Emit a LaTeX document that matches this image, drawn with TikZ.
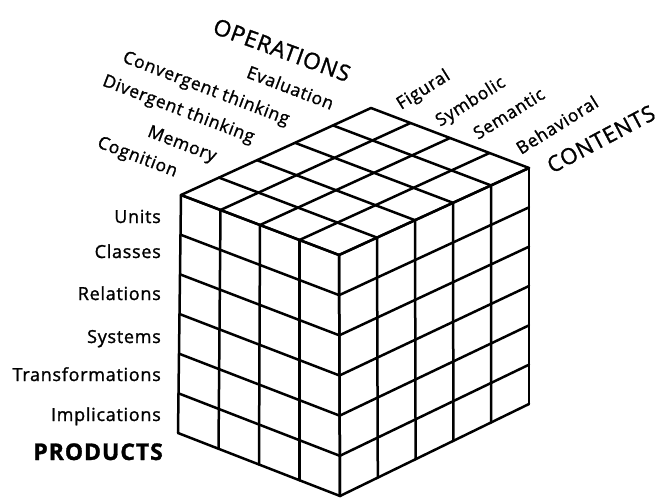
\documentclass[tikz,border=0pt]{standalone}
\usepackage{fontspec}
\setmainfont{Open Sans}[LetterSpace=4,FakeBold=1.3]
\usetikzlibrary{calc}
\begin{document}
\begin{tikzpicture}[x=1pt,y=-1pt,
  grid/.style={line width=2.5pt, line cap=round, line join=round},
  lbl/.style={font=\fontsize{18}{21}\selectfont, inner sep=0pt},
  oplbl/.style={font=\fontsize{17.5}{21}\selectfont, inner sep=0pt, rotate=-21, anchor=base east},
  colbl/.style={font=\fontsize{17.5}{21}\selectfont, inner sep=0pt, rotate=32, anchor=base west},
  prlbl/.style={lbl, anchor=base east},
  ttl/.style={font=\fontsize{22.5}{26}\selectfont, inner sep=0pt}]
\useasboundingbox (0,0) rectangle (661,498);
% cube corners
\coordinate (LT) at (181,195);
\coordinate (FT) at (339,255);
\coordinate (RT) at (529,168);
\coordinate (BT) at (371,108);
\coordinate (LB) at (178,433);
\coordinate (FB) at (340,496);
\coordinate (RB) at (529,404);
% left face
\foreach \i in {0,...,4} \draw[grid] ($(LT)!\i/4!(FT)$) -- ($(LB)!\i/4!(FB)$);
\foreach \j in {0,...,6} \draw[grid] ($(LT)!\j/6!(LB)$) -- ($(FT)!\j/6!(FB)$);
% right face
\foreach \i in {0,...,5} \draw[grid] ($(FT)!\i/5!(RT)$) -- ($(FB)!\i/5!(RB)$);
\foreach \j in {0,...,6} \draw[grid] ($(FT)!\j/6!(FB)$) -- ($(RT)!\j/6!(RB)$);
% top face
\foreach \i in {0,...,4} \draw[grid] ($(LT)!\i/4!(FT)$) -- ($(BT)!\i/4!(RT)$);
\foreach \i in {0,...,5} \draw[grid] ($(LT)!\i/5!(BT)$) -- ($(FT)!\i/5!(RT)$);
% operations
\node[ttl, rotate=-20] (ops) at (282,50) {OPERATIONS};
\node[oplbl] (cog) at (175,177) {Cognition};
\node[oplbl] (mem) at (214,162) {Memory};
\node[oplbl] (div) at (252,143) {Divergent thinking};
\node[oplbl] (con) at (287,125) {Convergent thinking};
\node[oplbl] (eva) at (331,110) {Evaluation};
% contents
\node[inner sep=0pt, font=\fontsize{22}{26}\selectfont, rotate=28] (cnt) at (601,139) {CONTENTS};
\node[colbl] (fig) at (401,110) {Figural};
\node[colbl] (sym) at (440,127) {Symbolic};
\node[colbl] (sem) at (478,140) {Semantic};
\node[colbl] (beh) at (521,155) {Behavioral};
% products
\node[prlbl] (uni) at (161,223) {Units};
\node[prlbl] (cla) at (161,258) {Classes};
\node[prlbl] (rel) at (161,300) {Relations};
\node[prlbl] (sys) at (161,343) {Systems};
\node[prlbl] (tra) at (161,381) {Transformations};
\node[prlbl] (imp) at (161,421) {Implications};
\node[inner sep=0pt, anchor=base east, font=\fontsize{23}{27}\selectfont\bfseries] (prd) at (163,460) {PRODUCTS};
\end{tikzpicture}
\end{document}
